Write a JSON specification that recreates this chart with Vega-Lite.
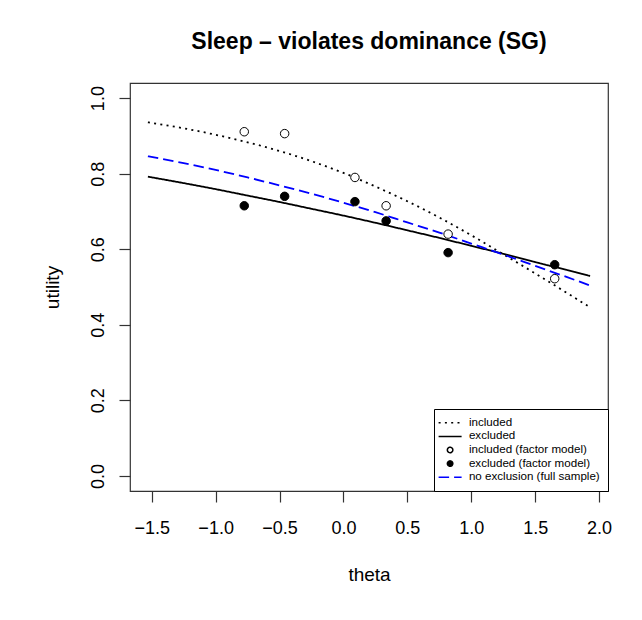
{
  "$schema": "https://vega.github.io/schema/vega-lite/v6.json",
  "autosize": {"type": "none"},
  "padding": {"left": 130, "top": 83, "right": 34, "bottom": 129},
  "width": 478,
  "height": 408,
  "background": "white",
  "title": {"text": "Sleep – violates dominance (SG)", "font": "Liberation Sans", "fontSize": 23, "fontWeight": "bold", "color": "black", "anchor": "middle", "offset": 29},
  "datasets": {
    "curves": [
      {"theta": -1.53, "utility": 0.936, "series": "included"},
      {"theta": -1.25, "utility": 0.920, "series": "included"},
      {"theta": -1.0, "utility": 0.903, "series": "included"},
      {"theta": -0.75, "utility": 0.883, "series": "included"},
      {"theta": -0.5, "utility": 0.860, "series": "included"},
      {"theta": -0.25, "utility": 0.833, "series": "included"},
      {"theta": 0.0, "utility": 0.802, "series": "included"},
      {"theta": 0.25, "utility": 0.766, "series": "included"},
      {"theta": 0.5, "utility": 0.727, "series": "included"},
      {"theta": 0.75, "utility": 0.684, "series": "included"},
      {"theta": 1.0, "utility": 0.637, "series": "included"},
      {"theta": 1.25, "utility": 0.587, "series": "included"},
      {"theta": 1.5, "utility": 0.536, "series": "included"},
      {"theta": 1.75, "utility": 0.484, "series": "included"},
      {"theta": 1.93, "utility": 0.446, "series": "included"},
      {"theta": -1.53, "utility": 0.792, "series": "excluded"},
      {"theta": -1.25, "utility": 0.775, "series": "excluded"},
      {"theta": -1.0, "utility": 0.759, "series": "excluded"},
      {"theta": -0.75, "utility": 0.742, "series": "excluded"},
      {"theta": -0.5, "utility": 0.725, "series": "excluded"},
      {"theta": -0.25, "utility": 0.707, "series": "excluded"},
      {"theta": 0.0, "utility": 0.689, "series": "excluded"},
      {"theta": 0.25, "utility": 0.670, "series": "excluded"},
      {"theta": 0.5, "utility": 0.650, "series": "excluded"},
      {"theta": 0.75, "utility": 0.630, "series": "excluded"},
      {"theta": 1.0, "utility": 0.609, "series": "excluded"},
      {"theta": 1.25, "utility": 0.588, "series": "excluded"},
      {"theta": 1.5, "utility": 0.566, "series": "excluded"},
      {"theta": 1.75, "utility": 0.545, "series": "excluded"},
      {"theta": 1.93, "utility": 0.529, "series": "excluded"},
      {"theta": -1.53, "utility": 0.846, "series": "no exclusion (full sample)"},
      {"theta": -1.25, "utility": 0.828, "series": "no exclusion (full sample)"},
      {"theta": -1.0, "utility": 0.810, "series": "no exclusion (full sample)"},
      {"theta": -0.75, "utility": 0.790, "series": "no exclusion (full sample)"},
      {"theta": -0.5, "utility": 0.769, "series": "no exclusion (full sample)"},
      {"theta": -0.25, "utility": 0.747, "series": "no exclusion (full sample)"},
      {"theta": 0.0, "utility": 0.723, "series": "no exclusion (full sample)"},
      {"theta": 0.25, "utility": 0.698, "series": "no exclusion (full sample)"},
      {"theta": 0.5, "utility": 0.671, "series": "no exclusion (full sample)"},
      {"theta": 0.75, "utility": 0.644, "series": "no exclusion (full sample)"},
      {"theta": 1.0, "utility": 0.615, "series": "no exclusion (full sample)"},
      {"theta": 1.25, "utility": 0.586, "series": "no exclusion (full sample)"},
      {"theta": 1.5, "utility": 0.556, "series": "no exclusion (full sample)"},
      {"theta": 1.75, "utility": 0.526, "series": "no exclusion (full sample)"},
      {"theta": 1.93, "utility": 0.504, "series": "no exclusion (full sample)"}
    ],
    "points": [
      {"theta": -0.776, "utility": 0.911, "series": "included (factor model)"},
      {"theta": -0.460, "utility": 0.906, "series": "included (factor model)"},
      {"theta": 0.090, "utility": 0.790, "series": "included (factor model)"},
      {"theta": 0.334, "utility": 0.715, "series": "included (factor model)"},
      {"theta": 0.819, "utility": 0.640, "series": "included (factor model)"},
      {"theta": 1.653, "utility": 0.522, "series": "included (factor model)"},
      {"theta": -0.776, "utility": 0.715, "series": "excluded (factor model)"},
      {"theta": -0.460, "utility": 0.740, "series": "excluded (factor model)"},
      {"theta": 0.090, "utility": 0.726, "series": "excluded (factor model)"},
      {"theta": 0.334, "utility": 0.675, "series": "excluded (factor model)"},
      {"theta": 0.819, "utility": 0.591, "series": "excluded (factor model)"},
      {"theta": 1.653, "utility": 0.559, "series": "excluded (factor model)"}
    ]
  },
  "encoding": {
    "x": {"field": "theta", "type": "quantitative", "title": "theta",
      "scale": {"domain": [-1.67, 2.07], "nice": false, "zero": false},
      "axis": {"values": [-1.5, -1.0, -0.5, 0.0, 0.5, 1.0, 1.5, 2.0], "format": ".1f"}},
    "y": {"field": "utility", "type": "quantitative", "title": "utility",
      "scale": {"domain": [-0.04, 1.04], "nice": false, "zero": false},
      "axis": {"values": [0, 0.2, 0.4, 0.6, 0.8, 1.0], "format": ".1f", "labelAngle": 270, "labelAlign": "center", "labelBaseline": "bottom"}}
  },
  "layer": [
    {
      "data": {"name": "curves"},
      "mark": {"type": "line", "strokeWidth": 1.8, "strokeCap": "butt", "interpolate": "monotone", "clip": true},
      "encoding": {
        "color": {"field": "series", "type": "nominal",
          "scale": {"domain": ["included", "excluded", "included (factor model)", "excluded (factor model)", "no exclusion (full sample)"], "range": ["black", "black", "black", "black", "#0000ff"]},
          "legend": {"title": null}},
        "strokeDash": {"field": "series", "type": "nominal",
          "scale": {"domain": ["included", "excluded", "included (factor model)", "excluded (factor model)", "no exclusion (full sample)"], "range": [[2, 4.3], [1, 0], [1, 0], [1, 0], [10.5, 5]]},
          "legend": {"title": null}}
      }
    },
    {
      "data": {"name": "points"},
      "mark": {"type": "point", "filled": false, "size": 72, "strokeWidth": 1, "opacity": 1},
      "encoding": {
        "color": {"field": "series", "type": "nominal",
          "scale": {"domain": ["included", "excluded", "included (factor model)", "excluded (factor model)", "no exclusion (full sample)"], "range": ["black", "black", "black", "black", "#0000ff"]},
          "legend": {"title": null}},
        "shape": {"field": "series", "type": "nominal",
          "scale": {"domain": ["included", "excluded", "included (factor model)", "excluded (factor model)", "no exclusion (full sample)"], "range": ["M-4.2,0H4.2", "M-4.2,0H4.2", "circle", "circle", "M-4.2,0H4.2"]},
          "legend": {"title": null}},
        "fill": {"field": "series", "type": "nominal",
          "scale": {"domain": ["included", "excluded", "included (factor model)", "excluded (factor model)", "no exclusion (full sample)"], "range": ["transparent", "transparent", "white", "black", "transparent"]},
          "legend": {"title": null}}
      }
    }
  ],
  "config": {
    "font": "Liberation Sans",
    "view": {"stroke": "#333", "strokeWidth": 1.2},
    "axis": {
      "domain": false, "grid": false, "ticks": true, "tickColor": "#333", "tickWidth": 1.2, "tickSize": 11,
      "labelFont": "Liberation Sans", "labelFontSize": 18, "labelColor": "black", "labelFlush": false, "labelOverlap": false,
      "titleFont": "Liberation Sans", "titleFontSize": 19, "titleFontWeight": "normal", "titleColor": "black"
    },
    "axisX": {"labelPadding": 17, "titlePadding": 28},
    "axisY": {"labelPadding": 12, "titlePadding": 27},
    "legend": {
      "orient": "bottom-right", "offset": 0, "strokeColor": "black", "fillColor": "white",
      "padding": 8, "labelFont": "Liberation Sans", "labelFontSize": 11.6, "labelColor": "black",
      "symbolSize": 30, "symbolStrokeWidth": 1.5, "symbolOffset": 2.3, "labelOffset": 13, "rowPadding": 0.6
    }
  }
}
